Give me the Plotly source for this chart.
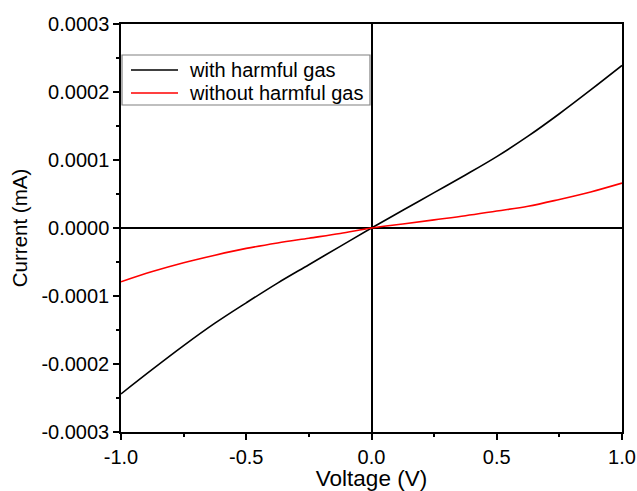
import plotly.graph_objects as go

voltage = [-1.0, -0.875, -0.75, -0.625, -0.5, -0.375, -0.25, -0.125, 0.0,
           0.125, 0.25, 0.375, 0.5, 0.625, 0.75, 0.875, 1.0]
with_gas = [-0.000244, -0.000208, -0.000173, -0.000140, -0.000110, -0.000081,
            -0.000054, -0.000027, 0.0, 0.000026, 0.000052, 0.000078, 0.000105,
            0.000135, 0.000168, 0.000203, 0.000239]
without_gas = [-0.000079, -0.000064, -0.000051, -0.000040, -0.000030, -0.000022,
               -0.000015, -0.000008, 0.0, 0.000006, 0.000012, 0.000018, 0.000025,
               0.000032, 0.000042, 0.000053, 0.000066]
series_names = ["with harmful gas", "without harmful gas"]
series_colors = ["black", "red"]

x_ticks = [-1.0, -0.5, 0.0, 0.5, 1.0]
y_ticks = [-0.0003, -0.0002, -0.0001, 0.0, 0.0001, 0.0002, 0.0003]

font = "Liberation Sans, Arial, sans-serif"

W, H = 637, 491
ML, MR, MT, MB = 121, 15, 24, 59
PW, PH = W - ML - MR, H - MT - MB


def px_x(p):
    return (p - ML) / PW


def px_y(p):
    return (H - MB - p) / PH


fig = go.Figure()
for ys, name, col in zip([with_gas, without_gas], series_names, series_colors):
    fig.add_trace(go.Scatter(x=voltage, y=ys, mode="lines", name=name,
                             line=dict(color=col, width=1.6, shape="spline")))

axis_common = dict(showline=True, linecolor="black", linewidth=1.5, mirror=True,
                   ticks="outside", ticklen=6, tickwidth=1.5, tickcolor="black",
                   showgrid=False, zeroline=True, zerolinecolor="black", zerolinewidth=1.5,
                   automargin=False,
                   tickfont=dict(family=font, size=20, color="black"))

fig.update_xaxes(range=[-1.0, 1.0], tickvals=x_ticks,
                 ticktext=[f"{v:.1f}" for v in x_ticks],
                 title=dict(text="Voltage (V)", font=dict(family=font, size=22.5, color="black"), standoff=2),
                 minor=dict(ticks="outside", ticklen=3, tickwidth=1.5, tickcolor="black", dtick=0.25),
                 **axis_common)
fig.update_yaxes(range=[-0.0003, 0.0003], tickvals=y_ticks,
                 ticktext=[f"{v:.4f}" for v in y_ticks],
                 title=dict(text="Current (mA)", font=dict(family=font, size=20.5, color="black"), standoff=8),
                 minor=dict(ticks="outside", ticklen=3, tickwidth=1.5, tickcolor="black", dtick=0.00005),
                 **axis_common)

# custom legend box (tighter row spacing than plotly's built-in legend)
shapes = [dict(type="rect", xref="paper", yref="paper",
               x0=px_x(122), x1=px_x(370), y0=px_y(105), y1=px_y(55),
               line=dict(color="#808080", width=1.2), fillcolor="white", layer="above")]
annotations = []
for i, (name, col) in enumerate(zip(series_names, series_colors)):
    yy = 70 + 23 * i
    shapes.append(dict(type="line", xref="paper", yref="paper",
                       x0=px_x(131), x1=px_x(178), y0=px_y(yy), y1=px_y(yy),
                       line=dict(color=col, width=1.6), layer="above"))
    annotations.append(dict(xref="paper", yref="paper", x=px_x(187), y=px_y(yy),
                            xanchor="left", yanchor="middle", showarrow=False,
                            text=name, font=dict(family=font, size=20, color="black")))

fig.update_layout(
    width=W, height=H,
    margin=dict(l=ML, r=MR, t=MT, b=MB, autoexpand=False),
    paper_bgcolor="white", plot_bgcolor="white",
    font=dict(family=font, size=20, color="black"),
    showlegend=False,
    shapes=shapes,
    annotations=annotations,
)

fig.write_html("out.html", config={"displayModeBar": False},
               post_script="document.body.style.margin='0';document.body.style.padding='0';")
